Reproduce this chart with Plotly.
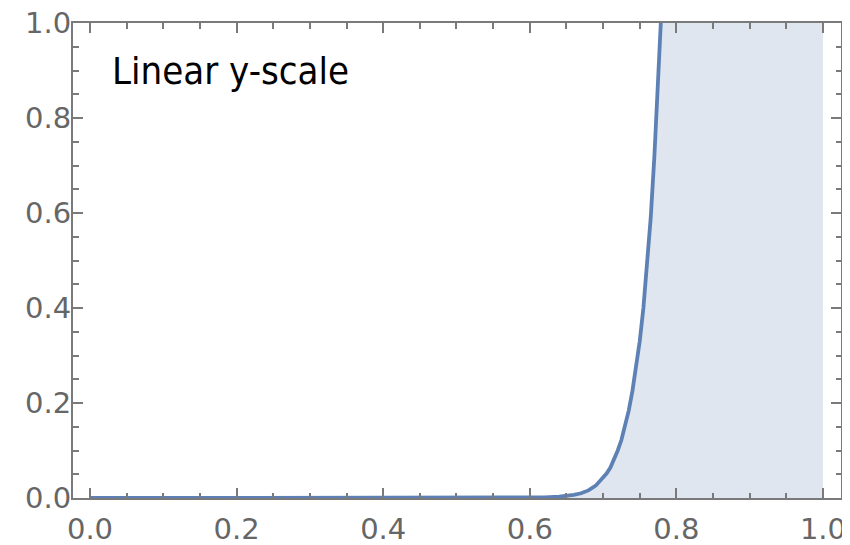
import plotly.graph_objects as go

# Curve (y values above 1.0 lie outside the plot range)
x_vals = [0.0, 0.10, 0.20, 0.30, 0.40, 0.50, 0.55, 0.60, 0.62, 0.64, 0.65, 0.66, 0.67,
          0.68, 0.69, 0.70, 0.705, 0.71, 0.715, 0.72, 0.725, 0.73, 0.735, 0.74, 0.745,
          0.75, 0.755, 0.76, 0.765, 0.77, 0.775, 0.78,
          0.79, 0.80, 0.85, 0.90, 1.00]
y_vals = [0.0, 0.0, 0.0, 0.0, 0.0, 0.0, 0.0001, 0.0005, 0.0012, 0.0028, 0.004, 0.0065, 0.010,
          0.016, 0.026, 0.042, 0.052, 0.064, 0.080, 0.100, 0.122, 0.150, 0.184, 0.225, 0.272,
          0.33, 0.40, 0.49, 0.59, 0.72, 0.86, 1.04,
          1.55, 2.3, 16.0, 120.0, 6000.0]

tick_vals = [0.0, 0.2, 0.4, 0.6, 0.8, 1.0]
tick_text = ["0.0", "0.2", "0.4", "0.6", "0.8", "1.0"]
label_text = "Linear y-scale"

line_color = "#5E81B5"
fill_color = "rgba(94,129,181,0.2)"
frame_color = "#7a7a7a"
label_color = "#666666"

fig = go.Figure()
fig.add_trace(go.Scatter(
    x=x_vals, y=y_vals, mode="lines",
    line=dict(color=line_color, width=3.8),
    fill="tozeroy", fillcolor=fill_color,
    hoverinfo="skip", showlegend=False,
))

axis_common = dict(
    showgrid=False, zeroline=False, automargin=False,
    showline=True, linecolor=frame_color, linewidth=2, mirror="allticks",
    ticks="inside", ticklen=10, tickwidth=2, tickcolor=frame_color,
    tickvals=tick_vals, ticktext=tick_text, ticklabeloverflow="allow",
    tickfont=dict(family="DejaVu Sans", size=29, color=label_color),
    minor=dict(ticks="inside", ticklen=5.5, tickwidth=2, tickcolor=frame_color, dtick=0.05),
)

fig.update_xaxes(range=[-0.0232, 1.0246], ticklabelstandoff=4, **axis_common)
fig.update_yaxes(range=[0, 1], ticklabelstandoff=-6, **axis_common)

fig.add_annotation(
    x=0.027, y=0.90, xref="x", yref="y", xanchor="left", yanchor="middle",
    text=label_text, showarrow=False,
    font=dict(family="DejaVu Sans Condensed, DejaVu Sans", size=38, color="#000000"),
)

# the page body adds an 8px offset, so the figure is sized to fit the window
fig.update_layout(
    width=842, height=537,
    margin=dict(l=65, r=9, t=15, b=47),
    paper_bgcolor="white", plot_bgcolor="white",
)

fig.write_html("out.html")
